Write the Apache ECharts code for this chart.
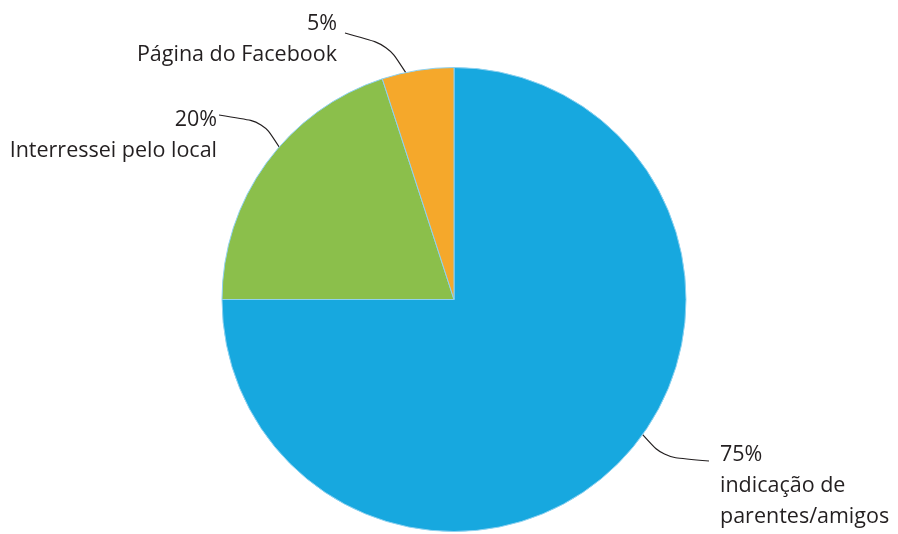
<!DOCTYPE html>
<html>
<head>
<meta charset="utf-8">
<script src="https://cdn.jsdelivr.net/npm/echarts@6/dist/echarts.min.js"></script>
<style>
  html, body { margin: 0; padding: 0; background: #ffffff; }
  #chart { width: 898px; height: 534px; }
</style>
</head>
<body>
<div id="chart"></div>
<script>
// Como conheceu o local
const categories = ['indicação de\nparentes/amigos', 'Interressei pelo local', 'Página do Facebook'];
const shares = [75, 20, 5];
const sliceColors = ['#17a8df', '#8bbf4b', '#f5a82b'];

// Pie geometry in pixels
const CX = 454, CY = 299.5, R = 232;

// Leader lines: rim angle (degrees clockwise from 12 o'clock), elbow, end; label block anchor
const labelPlacement = [
  { rim: 125.6, elbow: [663, 457], end: [709, 461], text: [720, 439], align: 'left' },
  { rim: 311.1, elbow: [263, 122], end: [219, 115], text: [217, 104], align: 'right' },
  { rim: 348.0, elbow: [388, 45], end: [345, 33], text: [337, 8], align: 'right' }
];

const chart = echarts.init(document.getElementById('chart'), null, { renderer: 'canvas' });

chart.setOption({
  backgroundColor: '#ffffff',
  animation: false,
  series: [{
    type: 'pie',
    center: [CX, CY],
    radius: R,
    startAngle: 90,
    clockwise: true,
    avoidLabelOverlap: false,
    emphasis: { disabled: true },
    itemStyle: { borderColor: '#8ed2f1', borderWidth: 1 },
    label: {
      show: true,
      position: 'outside',
      formatter: '{c}%\n{b}',
      fontFamily: "'Open Sans', sans-serif",
      fontSize: 21.5,
      lineHeight: 31,
      color: '#231f20'
    },
    labelLine: {
      show: true,
      smooth: 0.3,
      lineStyle: { color: '#231f20', width: 1.2 }
    },
    labelLayout: function (params) {
      const p = labelPlacement[params.dataIndex];
      const a = p.rim * Math.PI / 180;
      return {
        x: p.text[0],
        y: p.text[1],
        align: p.align,
        verticalAlign: 'top',
        labelLinePoints: [
          [CX + R * Math.sin(a), CY - R * Math.cos(a)],
          p.elbow,
          p.end
        ]
      };
    },
    data: shares.map((v, i) => ({
      value: v,
      name: categories[i],
      itemStyle: { color: sliceColors[i] }
    }))
  }]
});
</script>
</body>
</html>
